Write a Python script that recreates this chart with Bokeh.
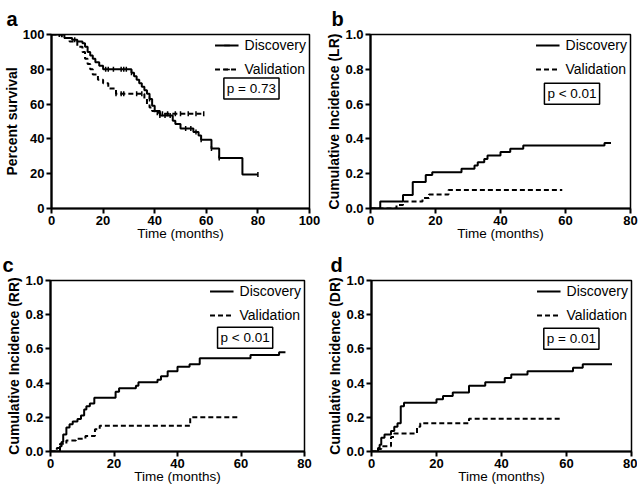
import numpy as np
from bokeh.plotting import figure
from bokeh.models import Label, Legend, LegendItem, FixedTicker, Range1d, PrintfTickFormatter
from bokeh.layouts import column, row
from bokeh.embed import file_html
from bokeh.resources import INLINE

FONT = "Liberation Sans"

# ---------------- data ----------------
# Panel a: overall survival (Kaplan-Meier, percent)
a_disc_t = [0, 5, 8, 10, 12, 13, 14, 15, 16, 17, 18.5, 20, 31, 32, 33, 34, 35, 36, 37, 38, 39, 40, 42, 47, 48, 50, 55, 57, 58, 62, 65, 74, 80]
a_disc_s = [100, 98, 97, 96, 95, 93, 90, 88, 86, 84, 82, 80, 78, 76, 74, 72, 70, 68, 66, 63, 59, 56, 53.5, 50.5, 48.5, 46, 44, 42, 39.5, 34.5, 29, 19.5, 19.5]
a_disc_cens = [3, 9, 21, 22, 24, 27, 28, 29, 31, 38, 42, 44, 46, 52, 54, 56, 58, 62, 65, 80]
a_val_t = [0, 4, 7, 10, 12, 13, 14, 15, 16, 18, 20, 22, 25, 36, 37, 38, 39, 40, 42, 59]
a_val_s = [100, 98, 96, 93, 90, 86, 83, 80, 77, 74, 72, 69, 66, 63, 60, 58, 56, 55, 54.5, 54.5]
a_val_cens = [25, 27, 28, 33, 35, 41, 43, 45, 48, 50, 53, 56, 59]

# Panel b: cumulative incidence (LR)
b_disc_t = [0, 3, 10, 13, 17, 19, 28, 32, 33, 35, 36, 40, 43, 47, 72, 74]
b_disc_y = [0, 0.04, 0.077, 0.153, 0.192, 0.209, 0.228, 0.247, 0.266, 0.285, 0.305, 0.324, 0.343, 0.362, 0.377, 0.377]
b_val_t = [0, 8, 10, 16, 18, 24, 59]
b_val_y = [0, 0.02, 0.04, 0.06, 0.08, 0.107, 0.107]

# Panel c: cumulative incidence (RR)
c_disc_t = [0, 3, 3.5, 4, 5, 6, 7, 8.5, 9.6, 10.6, 11.3, 12.4, 13.8, 20.5, 21.6, 26.9, 27.7, 33.7, 34.8, 36.9, 40, 43.8, 47, 63, 72, 74]
c_disc_y = [0, 0.03, 0.055, 0.1, 0.14, 0.16, 0.175, 0.19, 0.21, 0.245, 0.265, 0.28, 0.315, 0.35, 0.37, 0.385, 0.405, 0.42, 0.44, 0.47, 0.495, 0.51, 0.545, 0.565, 0.58, 0.58]
c_val_t = [0, 2, 3, 5, 8, 11, 14, 15.5, 44, 59]
c_val_y = [0, 0.02, 0.045, 0.065, 0.075, 0.09, 0.13, 0.15, 0.2, 0.2]

# Panel d: cumulative incidence (DR)
d_disc_t = [0, 2, 2.5, 3, 4, 6, 7, 8, 9, 10, 20, 22, 25, 30, 35, 41, 43, 48, 62, 65, 74]
d_disc_y = [0, 0.02, 0.04, 0.08, 0.1, 0.12, 0.145, 0.165, 0.265, 0.285, 0.305, 0.325, 0.345, 0.385, 0.405, 0.43, 0.45, 0.47, 0.49, 0.51, 0.51]
d_val_t = [0, 2, 3, 6, 7, 14, 15, 30, 58]
d_val_y = [0, 0.015, 0.03, 0.085, 0.105, 0.145, 0.165, 0.192, 0.192]

x_ticks_a = [0, 20, 40, 60, 80, 100]
y_ticks_a = [0, 20, 40, 60, 80, 100]
x_ticks_ci = [0, 20, 40, 60, 80]
y_ticks_ci = [0, 0.2, 0.4, 0.6, 0.8, 1.0]

series_names = ["Discovery", "Validation"]
p_texts = ["p = 0.73", "p < 0.01", "p < 0.01", "p = 0.01"]
panel_letters = ["a", "b", "c", "d"]
y_labels = ["Percent survival", "Cumulative Incidence (LR)", "Cumulative Incidence (RR)", "Cumulative Incidence (DR)"]


def step_value(ts, vs, t):
    idx = np.searchsorted(np.asarray(ts), np.asarray(t), side="right") - 1
    return np.asarray(vs)[idx]


def make_fig(fw, fh, left, right, top, bottom, xmax, ymax, xticks, yticks,
             ylabel, letter, letter_off, ptext, pxy):
    p = figure(frame_width=fw, frame_height=fh, output_backend="svg", toolbar_location=None,
               x_range=Range1d(0, xmax), y_range=Range1d(0, ymax),
               min_border_left=left, min_border_right=right,
               min_border_top=top, min_border_bottom=bottom)
    p.grid.visible = False
    p.outline_line_color = "black"
    p.outline_line_width = 1.5
    p.outline_line_alpha = 1
    for ax in (p.xaxis[0], p.yaxis[0]):
        ax.axis_line_width = 2.2
        ax.major_tick_line_width = 2
        ax.major_tick_out = 5
        ax.major_tick_in = 0
        ax.minor_tick_out = 0
        ax.minor_tick_in = 0
        ax.major_label_text_font = FONT
        ax.major_label_text_font_style = "bold"
        ax.major_label_text_font_size = "13px"
        ax.major_label_text_color = "black"
        ax.axis_label_text_font = FONT
        ax.axis_label_text_color = "black"
        ax.major_label_standoff = 2
    p.xaxis.ticker = FixedTicker(ticks=xticks, minor_ticks=[])
    p.yaxis.ticker = FixedTicker(ticks=yticks, minor_ticks=[])
    if ymax == 1:
        p.yaxis.formatter = PrintfTickFormatter(format="%.1f")
    p.xaxis.axis_label = "Time (months)"
    p.xaxis.axis_label_text_font_style = "normal"
    p.xaxis.axis_label_text_font_size = "13.5px"
    p.xaxis.axis_label_standoff = -2
    p.yaxis.axis_label = ylabel
    p.yaxis.axis_label_text_font_style = "bold"
    p.yaxis.axis_label_text_font_size = "14px"
    p.yaxis.axis_label_standoff = 0

    p.title.text = letter
    p.title.text_font = FONT
    p.title.text_font_style = "bold"
    p.title.text_font_size = "20px"
    p.title.text_color = "black"
    p.title.align = "left"
    p.title.offset = letter_off
    p.title.standoff = 10

    p.add_layout(Label(x=pxy[0], y=pxy[1], text=ptext, text_font=FONT, text_font_size="13.5px",
                       text_align="center", text_baseline="middle", text_color="black",
                       border_line_color="black", border_line_width=1.5,
                       background_fill_color="white", padding=3))
    return p


def add_legend(p, disc_items, val_items):
    leg = Legend(items=[LegendItem(label=series_names[0], renderers=disc_items),
                        LegendItem(label=series_names[1], renderers=val_items)],
                 location="top_right", margin=0, padding=3, spacing=8,
                 glyph_width=24, glyph_height=14, label_height=14, label_standoff=6,
                 label_text_font=FONT, label_text_font_size="14px", label_text_color="black",
                 background_fill_alpha=0, border_line_alpha=0)
    p.add_layout(leg)


DASH = "5 3"
LW = 2

# ---- panel a ----
pa = make_fig(258, 174, 50, 14, 33, 38, 100, 100, x_ticks_a, y_ticks_a, y_labels[0],
              panel_letters[0], -45, p_texts[0], (77.5, 69))
ra1 = pa.step(a_disc_t, a_disc_s, mode="after", line_color="black", line_width=LW)
ra1c = pa.scatter(a_disc_cens, step_value(a_disc_t, a_disc_s, a_disc_cens), marker="dash",
                  angle=np.pi / 2, size=5, line_color="black", line_width=1.5)
ra2 = pa.step(a_val_t, a_val_s, mode="after", line_color="black", line_width=LW, line_dash=DASH)
ra2c = pa.scatter(a_val_cens, step_value(a_val_t, a_val_s, a_val_cens), marker="dash",
                  angle=np.pi / 2, size=5, line_color="black", line_width=1.5)
add_legend(pa, [ra1, ra1c], [ra2, ra2c])

# ---- panel b ----
pb = make_fig(260, 174, 46, 8, 33, 38, 80, 1, x_ticks_ci, y_ticks_ci, y_labels[1],
              panel_letters[1], -39, p_texts[1], (62, 0.66))
rb1 = pb.step(b_disc_t, b_disc_y, mode="after", line_color="black", line_width=LW)
rb2 = pb.step(b_val_t, b_val_y, mode="after", line_color="black", line_width=LW, line_dash=DASH)
add_legend(pb, [rb1], [rb2])

# ---- panel c ----
pc = make_fig(254, 171, 50, 20, 33, 38, 80, 1, x_ticks_ci, y_ticks_ci, y_labels[2],
              panel_letters[2], -48, p_texts[2], (61.3, 0.665))
rc1 = pc.step(c_disc_t, c_disc_y, mode="after", line_color="black", line_width=LW)
rc2 = pc.step(c_val_t, c_val_y, mode="after", line_color="black", line_width=LW, line_dash=DASH)
add_legend(pc, [rc1], [rc2])

# ---- panel d ----
pd_ = make_fig(260, 171, 46, 6, 33, 38, 80, 1, x_ticks_ci, y_ticks_ci, y_labels[3],
               panel_letters[3], -41, p_texts[3], (61.5, 0.66))
rd1 = pd_.step(d_disc_t, d_disc_y, mode="after", line_color="black", line_width=LW)
rd2 = pd_.step(d_val_t, d_val_y, mode="after", line_color="black", line_width=LW, line_dash=DASH)
add_legend(pd_, [rd1], [rd2])

layout = column(row(pa, pb), row(pc, pd_))
open("out.html", "w").write(file_html(layout, INLINE))
